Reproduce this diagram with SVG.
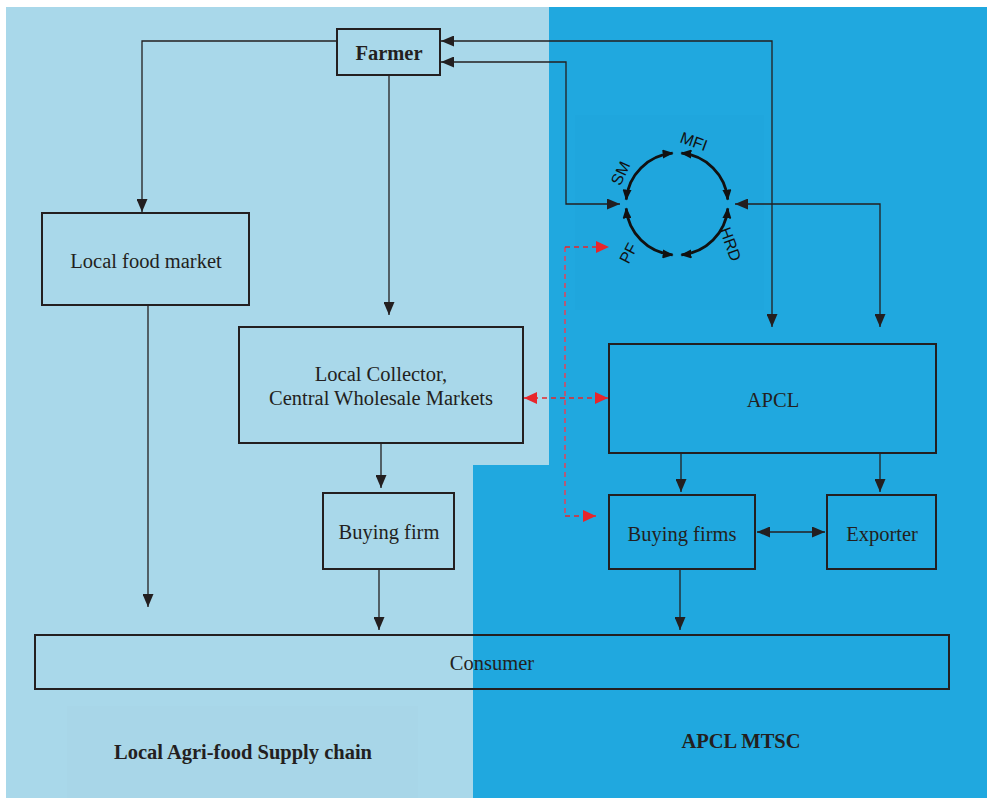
<svg xmlns="http://www.w3.org/2000/svg" width="987" height="798" viewBox="0 0 987 798">
<style>
.box{fill:none;stroke:#231F20;stroke-width:2}
.ln{fill:none;stroke:#231F20;stroke-width:1.3}
.arc{fill:none;stroke:#111;stroke-width:2.8}
.rd{fill:none;stroke:#E8262B;stroke-width:1.5;stroke-dasharray:5,4}
.rdv{fill:none;stroke:#C2536F;stroke-width:1.8;stroke-dasharray:5,4}
.t{font-family:"Liberation Serif","Times New Roman",serif;font-size:20.5px;fill:#231F20;text-anchor:middle}
.tb{font-family:"Liberation Serif","Times New Roman",serif;font-size:20.5px;font-weight:bold;fill:#231F20;text-anchor:middle}
.ts{font-family:"Liberation Sans",Arial,sans-serif;font-size:16px;fill:#111;text-anchor:middle}
</style>
<defs>
<marker id="a" markerUnits="userSpaceOnUse" markerWidth="13" markerHeight="11" refX="13" refY="5.5" orient="auto-start-reverse"><path d="M0,0 L13,5.5 L0,11 z" fill="#231F20"/></marker>
<marker id="c" markerUnits="userSpaceOnUse" markerWidth="11" markerHeight="9" refX="10" refY="4.5" orient="auto-start-reverse"><path d="M0,0 L11,4.5 L0,9 z" fill="#111"/></marker>
<marker id="r" markerUnits="userSpaceOnUse" markerWidth="13" markerHeight="12" refX="13" refY="6" orient="auto-start-reverse"><path d="M0,0 L13,6 L0,12 z" fill="#E8262B"/></marker>
</defs>
<rect width="987" height="798" fill="#ffffff"/>
<polygon points="6,7 549,7 549,465 473,465 473,798 6,798" fill="#A9D8EA"/>
<polygon points="549,7 987,7 987,798 473,798 473,465 549,465" fill="#20A8DF"/>
<rect x="67" y="706" width="351" height="92" fill="#A8D6E8"/>
<rect x="575" y="115" width="189" height="195" fill="#1FA6DD"/>

<g id="connectors">
<path class="ln" d="M337,41 H142 V212" marker-end="url(#a)"/>
<path class="ln" d="M148,305 V607" marker-end="url(#a)"/>
<path class="ln" d="M389,75 V315" marker-end="url(#a)"/>
<path class="ln" d="M381,443 V488" marker-end="url(#a)"/>
<path class="ln" d="M379,569 V630" marker-end="url(#a)"/>
<path class="ln" d="M441,41 H772 V327" marker-start="url(#a)" marker-end="url(#a)"/>
<path class="ln" d="M441,62 H566 V204 H620" marker-start="url(#a)" marker-end="url(#a)"/>
<path class="ln" d="M735,204 H880 V327" marker-start="url(#a)" marker-end="url(#a)"/>
<path class="ln" d="M681,453 V492" marker-end="url(#a)"/>
<path class="ln" d="M880,453 V492" marker-end="url(#a)"/>
<path class="ln" d="M757,532 H825" marker-start="url(#a)" marker-end="url(#a)"/>
<path class="ln" d="M680,569 V630" marker-end="url(#a)"/>
<path class="rd" d="M524,398 H608" marker-start="url(#r)" marker-end="url(#r)"/>
<path class="rdv" d="M565,247 V516"/>
<path class="rd" d="M565,247 H609" marker-end="url(#r)"/>
<path class="rd" d="M565,516 H596" marker-end="url(#r)"/>
</g>

<g id="cycle">
<path class="arc" d="M626.2,199.6 A51,51 0 0,1 672.6,153.2" marker-start="url(#c)" marker-end="url(#c)"/>
<path class="arc" d="M681.4,153.2 A51,51 0 0,1 727.8,199.6" marker-start="url(#c)" marker-end="url(#c)"/>
<path class="arc" d="M727.8,208.4 A51,51 0 0,1 681.4,254.8" marker-start="url(#c)" marker-end="url(#c)"/>
<path class="arc" d="M672.6,254.8 A51,51 0 0,1 626.2,208.4" marker-start="url(#c)" marker-end="url(#c)"/>
<text class="ts" transform="translate(620,173) rotate(-65)" dy="6">SM</text>
<text class="ts" transform="translate(694,141) rotate(20)" dy="6">MFI</text>
<text class="ts" transform="translate(731,244) rotate(70)" dy="6">HRD</text>
<text class="ts" transform="translate(628,253) rotate(-62)" dy="6">PF</text>
</g>

<g id="farmer"><rect class="box" x="337" y="29" width="103" height="46"/><text class="tb" x="389" y="60">Farmer</text></g>
<g id="local-food-market"><rect class="box" x="42" y="213" width="207" height="92"/><text class="t" x="146" y="268">Local food market</text></g>
<g id="local-collector"><rect class="box" x="239" y="327" width="284" height="116"/><text class="t" x="381" y="381">Local Collector,</text><text class="t" x="381" y="405">Central Wholesale Markets</text></g>
<g id="buying-firm"><rect class="box" x="323" y="493" width="131" height="76"/><text class="t" x="389" y="539">Buying firm</text></g>
<g id="apcl"><rect class="box" x="609" y="344" width="327" height="109"/><text class="t" x="773" y="407">APCL</text></g>
<g id="buying-firms"><rect class="box" x="609" y="495" width="146" height="74"/><text class="t" x="682" y="541">Buying firms</text></g>
<g id="exporter"><rect class="box" x="827" y="495" width="109" height="74"/><text class="t" x="882" y="541">Exporter</text></g>
<g id="consumer"><rect class="box" x="35" y="635" width="914" height="54"/><text class="t" x="492" y="670">Consumer</text></g>

<text class="tb" x="243" y="759">Local Agri-food Supply chain</text>
<text class="tb" x="741" y="748">APCL MTSC</text>
</svg>
